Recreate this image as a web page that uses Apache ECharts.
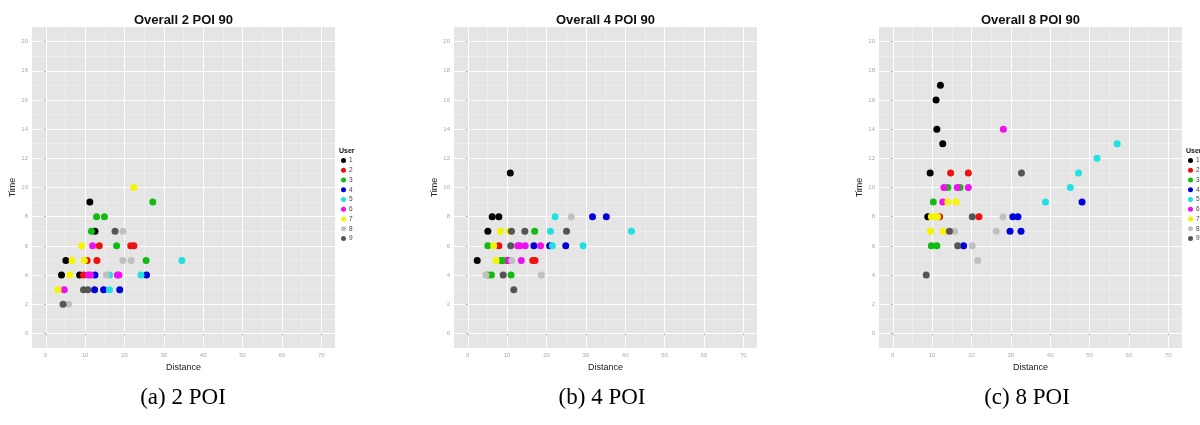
<!DOCTYPE html>
<html>
<head>
<meta charset="utf-8">
<script src="https://cdn.jsdelivr.net/npm/echarts@6/dist/echarts.min.js"></script>
<style>html,body{margin:0;padding:0;background:#fff}#c{width:1200px;height:425px}</style>
</head>
<body>
<div id="c"></div>
<script>
const users = ['1','2','3','4','5','6','7','8','9'];
const userColors = ['#000000','#ee1111','#11bb11','#0000dd','#22e0e0','#ee11ee','#f5f500','#c0c0c0','#555555'];
const panelTitles = ['Overall 2 POI 90','Overall 4 POI 90','Overall 8 POI 90'];
const captions = ['(a) 2 POI','(b) 4 POI','(c) 8 POI'];
const xTicks = [0,10,20,30,40,50,60,70];
const xMinor = [5,15,25,35,45,55,65];
const yTicks = [0,2,4,6,8,10,12,14,16,18,20];
const yMinor = [1,3,5,7,9,11,13,15,17,19];

// [distance, time, user]
const poi2Points = [
  [11.2,9,1],[12.5,7,1],[5.1,5,1],[4.0,4,1],[8.6,4,1],
  [13.6,6,2],[21.6,6,2],[22.4,6,2],[10.5,5,2],[13.0,5,2],[9.6,4,2],
  [27.2,9,3],[12.9,8,3],[14.9,8,3],[11.6,7,3],[18.0,6,3],[25.5,5,3],
  [12.5,4,4],[25.6,4,4],[12.4,3,4],[14.7,3,4],[18.8,3,4],
  [34.6,5,5],[16.2,4,5],[24.2,4,5],[16.2,3,5],
  [11.9,6,6],[10.8,4,6],[11.4,4,6],[18.2,4,6],[18.6,4,6],[4.7,3,6],
  [22.4,10,7],[9.1,6,7],[6.7,5,7],[9.8,5,7],[6.1,4,7],[3.1,3,7],
  [19.6,7,8],[19.6,5,8],[21.7,5,8],[15.4,4,8],[5.8,2,8],
  [17.6,7,9],[9.6,3,9],[10.7,3,9],[4.4,2,9]
];
const poi4Points = [
  [10.8,11,1],[6.2,8,1],[7.9,8,1],[5.1,7,1],[2.4,5,1],
  [7.9,6,2],[10.0,5,2],[16.5,5,2],[17.1,5,2],
  [17.0,7,3],[5.1,6,3],[8.5,5,3],[8.9,5,3],[5.1,4,3],[6.0,4,3],[11.0,4,3],
  [31.7,8,4],[35.2,8,4],[16.8,6,4],[20.8,6,4],[24.9,6,4],
  [22.2,8,5],[21.0,7,5],[41.6,7,5],[21.5,6,5],[29.3,6,5],
  [12.7,6,6],[13.2,6,6],[14.6,6,6],[18.5,6,6],[10.4,5,6],[13.6,5,6],
  [8.3,7,7],[10.6,7,7],[6.6,6,7],[7.2,5,7],
  [26.3,8,8],[11.2,5,8],[18.7,4,8],[4.6,4,8],
  [11.1,7,9],[14.5,7,9],[25.1,7,9],[10.9,6,9],[9.0,4,9],[11.7,3,9]
];
const poi8Points = [
  [12.1,17,1],[11.0,16,1],[11.2,14,1],[12.7,13,1],[9.5,11,1],[8.9,8,1],
  [14.7,11,2],[19.2,11,2],[11.9,8,2],[21.9,8,2],
  [14.0,10,3],[17.1,10,3],[10.3,9,3],[9.8,6,3],[11.2,6,3],
  [48.1,9,4],[30.5,8,4],[31.8,8,4],[29.8,7,4],[32.6,7,4],[18.0,6,4],
  [57.0,13,5],[51.9,12,5],[47.2,11,5],[45.1,10,5],[38.8,9,5],
  [28.1,14,6],[13.0,10,6],[16.4,10,6],[19.2,10,6],[12.7,9,6],
  [14.0,9,7],[16.1,9,7],[9.8,8,7],[10.8,8,7],[11.4,8,7],[9.6,7,7],[12.8,7,7],
  [28.0,8,8],[15.7,7,8],[26.3,7,8],[20.2,6,8],[21.6,5,8],
  [32.7,11,9],[20.2,8,9],[14.4,7,9],[16.5,6,9],[8.5,4,9]
];
const panels = [poi2Points, poi4Points, poi8Points];

const gridLefts = [32, 454, 879];
const gridW = 303, gridTop = 27, gridH = 321;
const panelColor = '#e5e5e5';

const grids = [], xAxes = [], yAxes = [], series = [], graphics = [];
panels.forEach((pts, g) => {
  grids.push({left: gridLefts[g], top: gridTop, width: gridW, height: gridH,
    show: true, backgroundColor: panelColor, borderWidth: 0, containLabel: false});
  xAxes.push({type:'value', gridIndex:g, min:-3.5, max:73.5,
    name:'Distance', nameLocation:'middle', nameGap:12,
    nameTextStyle:{fontSize:9, color:'#222', fontFamily:'Liberation Sans'},
    axisLine:{show:false},
    axisTick:{show:true, length:2, customValues:xTicks, lineStyle:{color:'#999', width:0.7}},
    axisLabel:{customValues:xTicks, fontSize:6, color:'#aaa', margin:4, fontFamily:'Liberation Sans'},
    splitLine:{show:true, lineStyle:{color:'#ffffff', width:1}}, z:2});
  xAxes.push({type:'value', gridIndex:g, min:-3.5, max:73.5, position:'bottom',
    axisLine:{show:false}, axisTick:{show:false, customValues:xMinor},
    axisLabel:{show:false, customValues:xMinor},
    splitLine:{show:true, lineStyle:{color:'#f0f0f0', width:0.6}}, z:1});
  yAxes.push({type:'value', gridIndex:g, min:-1, max:21,
    name:'Time', nameLocation:'middle', nameGap:12, nameRotate:90,
    nameTextStyle:{fontSize:9, color:'#222', fontFamily:'Liberation Sans'},
    axisLine:{show:false},
    axisTick:{show:true, length:2, customValues:yTicks, lineStyle:{color:'#999', width:0.7}},
    axisLabel:{customValues:yTicks, fontSize:6, color:'#aaa', margin:4, fontFamily:'Liberation Sans'},
    splitLine:{show:true, lineStyle:{color:'#ffffff', width:1}}, z:2});
  yAxes.push({type:'value', gridIndex:g, min:-1, max:21, position:'left',
    axisLine:{show:false}, axisTick:{show:false, customValues:yMinor},
    axisLabel:{show:false, customValues:yMinor},
    splitLine:{show:true, lineStyle:{color:'#f0f0f0', width:0.6}}, z:1});
  users.forEach((u, i) => {
    series.push({type:'scatter', name:u, xAxisIndex:2*g, yAxisIndex:2*g,
      symbol:'circle', symbolSize:7,
      itemStyle:{color:userColors[i], opacity:1},
      emphasis:{disabled:true}, silent:true, z:5,
      data: pts.filter(p => p[2] === i+1).map(p => [p[0], p[1]])});
  });
  const cx = gridLefts[g] + gridW/2;
  graphics.push({type:'text', x:cx, y:20, style:{text:panelTitles[g], font:'bold 13px "Liberation Sans"', fill:'#111', textAlign:'center', textVerticalAlign:'middle'}});
});
const capX = [183, 602, 1027];
captions.forEach((c, i) => {
  graphics.push({type:'text', x:capX[i], y:398, style:{text:c, font:'23px "Liberation Serif"', fill:'#000', textAlign:'center', textVerticalAlign:'middle'}});
});
const legendLefts = [338, 1185];
const legends = legendLefts.map(l => ({data:users, orient:'vertical', left:l+3, top:157,
  itemWidth:5, itemHeight:5, itemGap:2.75, padding:0, icon:'circle', selectedMode:false,
  textStyle:{fontSize:6.5, color:'#444', fontFamily:'Liberation Sans', padding:[0,0,0,-2]}}));
legendLefts.forEach(l => {
  graphics.push({type:'text', x:l+1, y:151, style:{text:'User', font:'bold 7px "Liberation Sans"', fill:'#111', textAlign:'left', textVerticalAlign:'middle'}});
});

const chart = echarts.init(document.getElementById('c'), null, {renderer:'canvas'});
chart.setOption({
  animation:false,
  backgroundColor:'#ffffff',
  grid:grids, xAxis:xAxes, yAxis:yAxes, series:series,
  legend:legends, graphic:graphics
});
</script>
</body>
</html>
